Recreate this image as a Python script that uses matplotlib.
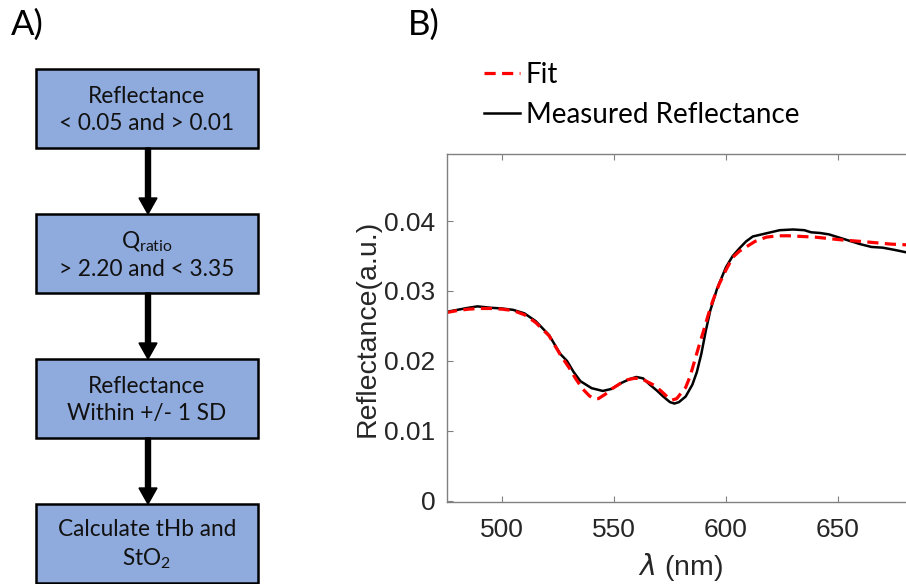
import matplotlib
matplotlib.use("Agg")
import matplotlib.pyplot as plt
from matplotlib.patches import Rectangle

# --- data ---
lam_meas = [475, 480, 485, 489, 495, 500, 505, 510, 515, 521, 526, 529, 532, 535,
            540, 545, 549, 553, 557, 560, 563, 566, 569, 572, 575, 577, 579, 582,
            585, 587, 589, 591, 593, 596, 600, 603, 606, 609, 612, 616, 620, 624,
            630, 635, 638, 642, 646, 650, 655, 660, 665, 670, 675, 681]
refl_meas = [0.0270, 0.0273, 0.0276, 0.0278, 0.0276, 0.0275, 0.0273, 0.0268, 0.0257,
             0.0237, 0.0210, 0.0200, 0.0184, 0.0171, 0.0161, 0.0157, 0.0160, 0.0168,
             0.0174, 0.0177, 0.0175, 0.0166, 0.0158, 0.0149, 0.0141, 0.0139, 0.0141,
             0.0149, 0.0166, 0.0184, 0.0210, 0.0243, 0.0272, 0.0303, 0.0334, 0.0350,
             0.0361, 0.0371, 0.0378, 0.0381, 0.0384, 0.0387, 0.0388, 0.0387, 0.0384,
             0.0383, 0.0381, 0.0377, 0.0372, 0.0367, 0.0363, 0.0362, 0.0359, 0.0355]

lam_fit = [475, 480, 485, 490, 495, 500, 505, 510, 515, 521, 526, 530, 533, 536, 539,
           541, 543, 546, 549, 553, 556, 559, 562, 565, 568, 571, 574, 576, 578, 580,
           582, 584, 586, 588, 590, 592, 594, 597, 600, 603, 606, 609, 613, 618, 623,
           628, 634, 640, 646, 652, 660, 667, 674, 681]
refl_fit = [0.0269, 0.0272, 0.0274, 0.0275, 0.0275, 0.0274, 0.0272, 0.0266, 0.0255,
            0.0236, 0.0209, 0.0190, 0.0174, 0.0160, 0.0150, 0.0146, 0.0146, 0.0152,
            0.0160, 0.0168, 0.0173, 0.0175, 0.0175, 0.0170, 0.0165, 0.0157, 0.0148,
            0.0144, 0.0146, 0.0154, 0.0162, 0.0178, 0.0200, 0.0222, 0.0243, 0.0265,
            0.0285, 0.0310, 0.0330, 0.0348, 0.0357, 0.0363, 0.0371, 0.0377, 0.0379,
            0.0379, 0.0378, 0.0377, 0.0375, 0.0373, 0.0371, 0.0369, 0.0367, 0.0366]

box_labels = ["Reflectance\n< 0.05 and > 0.01",
              "Q$_{\\mathregular{ratio}}$\n> 2.20 and < 3.35",
              "Reflectance\nWithin +/- 1 SD",
              "Calculate tHb and\nStO$_{\\mathregular{2}}$"]

xticks = [500, 550, 600, 650]
yticks = [0, 0.01, 0.02, 0.03, 0.04]

W, H = 906, 584
fig = plt.figure(figsize=(W / 100, H / 100), dpi=100)

# --- panel A: flowchart, drawn in pixel coordinates ---
ax0 = fig.add_axes([0, 0, 1, 1])
ax0.set_xlim(0, W)
ax0.set_ylim(H, 0)
ax0.axis("off")

box_x, box_w, box_h = 36, 222, 79
box_tops = [69, 214, 359, 504]
for i, lab in enumerate(box_labels):
    top = box_tops[i]
    ax0.add_patch(Rectangle((box_x, top), box_w, box_h, facecolor="#8FAADC",
                            edgecolor="black", linewidth=1.8))
    ax0.text(box_x + box_w / 2, top + box_h / 2 + 1.5, lab, ha="center", va="center",
             family="Lato", fontsize=16.3, linespacing=1.3, color="#111111")
    if i < len(box_labels) - 1:
        y0 = top + box_h
        y1 = box_tops[i + 1]
        ax0.arrow(148, y0, 0, y1 - y0, width=5, head_width=18, head_length=16,
                  length_includes_head=True, color="black")

fig.text(11 / W, 1 - 25 / H, "A)", family="Lato", fontsize=25, va="center", ha="left")
fig.text(408 / W, 1 - 25 / H, "B)", family="Lato", fontsize=25, va="center", ha="left")

# --- panel B: reflectance spectrum ---
left, bottom = 446.7 / W, 1 - 502.3 / H
ax = fig.add_axes([left, bottom, 1 - left, (502.3 - 154) / H])
l_meas, = ax.plot(lam_meas, refl_meas, color="black", lw=1.8, label="Measured Reflectance")
l_fit, = ax.plot(lam_fit, refl_fit, color="#ff0000", lw=2.3, dashes=(3.5, 2), label="Fit")

ax.set_xlim(475.3, 680.4)
ax.set_ylim(-0.00023, 0.0496)
ax.set_xticks(xticks)
ax.set_yticks(yticks)
ax.set_yticklabels(["0", "0.01", "0.02", "0.03", "0.04"])
ax.tick_params(direction="in", length=4, width=0.8, color="#808080", top=True,
               labelsize=19, labelcolor="#262626")
ax.tick_params(axis="x", pad=11)
ax.tick_params(axis="y", pad=8)
for lbl in ax.get_xticklabels() + ax.get_yticklabels():
    lbl.set_family("Liberation Sans")
for s in ["left", "bottom", "top"]:
    ax.spines[s].set_color("#808080")
    ax.spines[s].set_linewidth(1.0)
ax.spines["right"].set_visible(False)

ax.set_ylabel("Reflectance(a.u.)", family="Liberation Sans", fontsize=20.5,
              color="#262626", labelpad=3)
ax.set_xlabel("$\\lambda$ (nm)", family="Liberation Sans", fontsize=20.5,
              color="#262626")
ax.xaxis.set_label_coords((680 - 446.7) / (W - 446.7), -0.14)

fig.legend(handles=[l_fit, l_meas], loc="upper left",
           bbox_to_anchor=(484 / W, 1 - 62 / H), frameon=False,
           prop={"family": "Lato", "size": 20}, handlelength=1.3,
           handletextpad=0.2, labelspacing=0.5, borderpad=0, borderaxespad=0)

fig.savefig("out.png", dpi=100)
